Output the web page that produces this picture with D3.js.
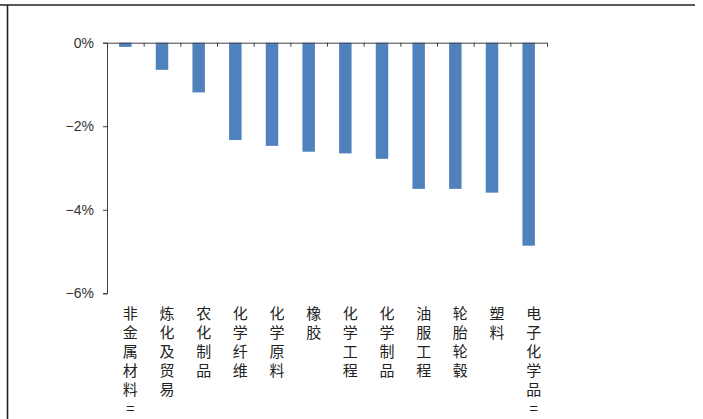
<!DOCTYPE html>
<html lang="zh">
<head>
<meta charset="UTF-8">
<title>chart</title>
<script src="https://cdn.jsdelivr.net/npm/d3@7"></script>
<style>
  body { margin: 0; background: #fff; }
  svg { display: block; }
</style>
</head>
<body>
<div id="chart"></div>
<script>
// data
var categories = ["非金属材料=", "炼化及贸易", "农化制品", "化学纤维", "化学原料", "橡胶",
                  "化学工程", "化学制品", "油服工程", "轮胎轮毂", "塑料", "电子化学品="];
var values = [-0.1, -0.65, -1.19, -2.33, -2.47, -2.61, -2.65, -2.78, -3.5, -3.5, -3.59, -4.86];
var yTicks = [0, -2, -4, -6];

var width = 703, height = 419;
var plot = { left: 107, right: 547, top: 42.7, bottom: 293.3 };

var svg = d3.select("#chart").append("svg")
    .attr("width", width).attr("height", height);

// frame
svg.append("line").attr("x1", 0).attr("x2", 695).attr("y1", 5).attr("y2", 5)
    .attr("stroke", "#222").attr("stroke-width", 1.6);
svg.append("line").attr("x1", 7.5).attr("x2", 7.5).attr("y1", 5).attr("y2", height)
    .attr("stroke", "#222").attr("stroke-width", 1.6);

// scales
var x = d3.scaleBand().domain(categories)
    .range([plot.left, plot.right])
    .paddingInner(0.66).paddingOuter(0.33);
var y = d3.scaleLinear().domain([-6, 0]).range([plot.bottom, plot.top]);

// bars
svg.selectAll("rect.bar").data(values).enter().append("rect")
    .attr("class", "bar")
    .attr("fill", "#4F81BD")
    .attr("x", function (d, i) { return x(categories[i]); })
    .attr("width", x.bandwidth())
    .attr("y", y(0))
    .attr("height", function (d) { return y(d) - y(0); });

// y axis
var yAxis = d3.axisLeft(y).tickValues(yTicks).tickSize(4).tickSizeOuter(4)
    .tickFormat(function (d) { return d3.format("d")(d) + "%"; });
var gy = svg.append("g").attr("transform", "translate(" + plot.left + ",0)").call(yAxis);
gy.selectAll("path, line").attr("stroke", "#404040");
gy.selectAll("text").attr("fill", "#333").attr("x", -13)
    .style("font-family", "Liberation Sans, Arial, sans-serif").style("font-size", "14px");

// x axis (ticks at band boundaries, no labels)
var xb = d3.scaleLinear().domain([0, categories.length]).range([plot.left, plot.right]);
var xAxis = d3.axisBottom(xb).tickValues(d3.range(categories.length + 1))
    .tickSize(4).tickSizeOuter(4).tickFormat("");
var gx = svg.append("g").attr("transform", "translate(0," + y(0) + ")").call(xAxis);
gx.selectAll("path, line").attr("stroke", "#404040");

// vertical category labels
var labels = svg.append("g")
    .style("font-family", "Noto Sans CJK SC, sans-serif")
    .style("font-size", "15px")
    .attr("fill", "#222");
categories.forEach(function (c, i) {
    var cx = x(c) + x.bandwidth() / 2 + 5;
    var t = labels.append("text").attr("text-anchor", "middle");
    Array.from(c).forEach(function (ch, k) {
        t.append("tspan").attr("x", cx).attr("y", 319 + k * 19).text(ch);
    });
});
</script>
</body>
</html>
